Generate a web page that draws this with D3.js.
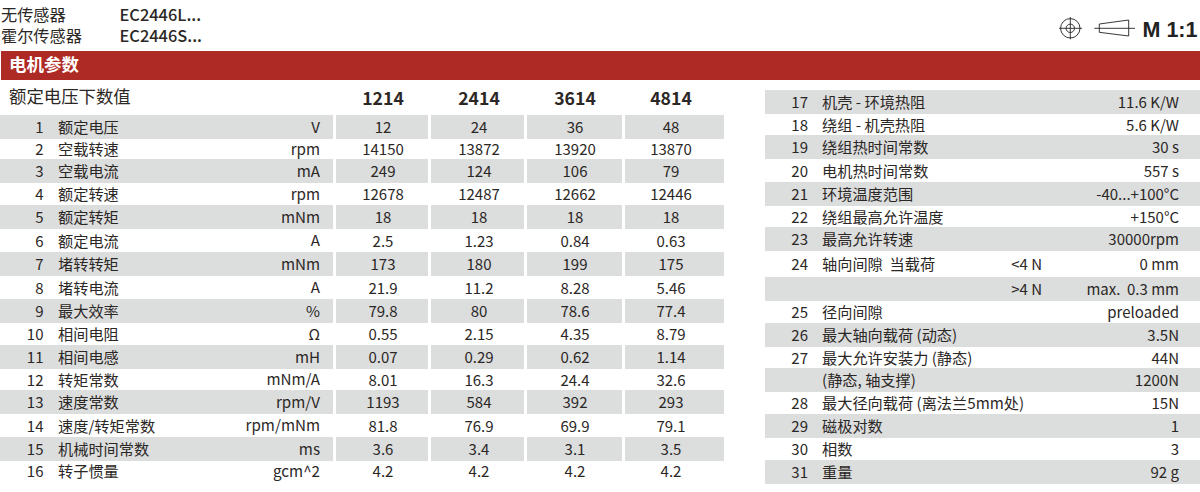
<!DOCTYPE html>
<html>
<head>
<meta charset="utf-8">
<script src="https://cdnjs.cloudflare.com/ajax/libs/d3/7.8.5/d3.min.js"></script>
<style>
  html, body { margin: 0; padding: 0; background: #fff; }
  text { font-family: "Noto Sans CJK SC", "Noto Sans", sans-serif; fill: #2b2725; }
</style>
</head>
<body>
<svg id="chart" width="1200" height="492" style="display:block"></svg>
<script>
var versionLabels = ['无传感器', '霍尔传感器'];
var versionCodes = ['EC2446L...', 'EC2446S...'];
var sectionTitle = '电机参数';
var tableTitle = '额定电压下数值';
var models = ['1214', '2414', '3614', '4814'];

var leftNames = ['额定电压', '空载转速', '空载电流', '额定转速', '额定转矩', '额定电流', '堵转转矩', '堵转电流',
  '最大效率', '相间电阻', '相间电感', '转矩常数', '速度常数', '速度/转矩常数', '机械时间常数', '转子惯量'];
var leftUnits = ['V', 'rpm', 'mA', 'rpm', 'mNm', 'A', 'mNm', 'A', '%', 'Ω', 'mH', 'mNm/A', 'rpm/V', 'rpm/mNm', 'ms', 'gcm^2'];
var values1214 = ['12', '14150', '249', '12678', '18', '2.5', '173', '21.9', '79.8', '0.55', '0.07', '8.01', '1193', '81.8', '3.6', '4.2'];
var values2414 = ['24', '13872', '124', '12487', '18', '1.23', '180', '11.2', '80', '2.15', '0.29', '16.3', '584', '76.9', '3.4', '4.2'];
var values3614 = ['36', '13920', '106', '12662', '18', '0.84', '199', '8.28', '78.6', '4.35', '0.62', '24.4', '392', '69.9', '3.1', '4.2'];
var values4814 = ['48', '13870', '79', '12446', '18', '0.63', '175', '5.46', '77.4', '8.79', '1.14', '32.6', '293', '79.1', '3.5', '4.2'];
var valueColumns = [values1214, values2414, values3614, values4814];

var rightNumbers = ['17', '18', '19', '20', '21', '22', '23', '24', '', '25', '26', '27', '', '28', '29', '30', '31'];
var rightNames = ['机壳 - 环境热阻', '绕组 - 机壳热阻', '绕组热时间常数', '电机热时间常数', '环境温度范围', '绕组最高允许温度',
  '最高允许转速', '轴向间隙  当载荷', '', '径向间隙', '最大轴向载荷 (动态)', '最大允许安装力 (静态)', '(静态, 轴支撑)',
  '最大径向载荷 (离法兰5mm处)', '磁极对数', '相数', '重量'];
var rightConditions = ['', '', '', '', '', '', '', '<4 N', '>4 N', '', '', '', '', '', '', '', ''];
var rightValues = ['11.6 K/W', '5.6 K/W', '30 s', '557 s', '-40...+100°C', '+150°C', '30000rpm', '0 mm', 'max.  0.3 mm',
  'preloaded', '3.5N', '44N', '1200N', '15N', '1', '3', '92 g'];

var svg = d3.select('#chart');
var grey = '#dcdddd';
var bandH = 24;

// the printed rows are not evenly spaced, so the row scales are piecewise
var leftY = d3.scaleLinear().domain([0, 2, 4, 6, 8, 10, 12, 14, 15]).range([115, 159, 205, 252, 299, 345, 390, 437, 459]);
var rightY = d3.scaleLinear().domain([0, 2, 4, 6, 8, 10, 12, 14, 16]).range([90, 135, 182, 227, 277, 323, 368, 414, 460]);
var colEdge = d3.scaleLinear().domain([0, 1, 2, 3, 4]).range([334.5, 429.5, 525.5, 623.5, 725.5]);
var colText = d3.scalePoint().domain(models).range([383, 671]);
var headY = d3.scalePoint().domain(versionLabels).range([15, 36]);

// header
versionLabels.forEach(function(d, i) {
  svg.append('text').attr('x', 1).attr('y', headY(d) + 6).attr('font-size', 16.2).text(d);
  svg.append('text').attr('x', 119.5).attr('y', headY(d) + 6).attr('font-size', 16.4).attr('font-weight', 500).text(versionCodes[i]);
});

svg.append('rect').attr('x', 1).attr('y', 51).attr('width', 1199).attr('height', 29).attr('fill', '#ae2a24');
svg.append('text').attr('x', 9).attr('y', 71).attr('font-size', 17.5).attr('font-weight', 700)
  .style('fill', '#fff').text(sectionTitle);

svg.append('text').attr('x', 9).attr('y', 103).attr('font-size', 17.4).text(tableTitle);

models.forEach(function(m) {
  svg.append('text').attr('x', colText(m)).attr('y', 104.8).attr('text-anchor', 'middle')
    .attr('font-size', 17.6).attr('font-weight', 700).text(m);
});

// left table
leftNames.forEach(function(d, i) {
  var y = leftY(i), cy = y + bandH / 2 + 6;
  if (i % 2 == 0) {
    svg.append('rect').attr('x', 0).attr('y', y).attr('width', 333).attr('height', bandH).attr('fill', grey);
    models.forEach(function(m, k) {
      svg.append('rect').attr('x', colEdge(k) + 1.5).attr('y', y)
        .attr('width', colEdge(k + 1) - colEdge(k) - 3).attr('height', bandH).attr('fill', grey);
    });
  }
  svg.append('text').attr('x', 43.5).attr('y', cy).attr('text-anchor', 'end').attr('font-size', 15).text(i + 1);
  svg.append('text').attr('x', 58).attr('y', cy).attr('font-size', 15.2).text(d);
  svg.append('text').attr('x', 320).attr('y', cy - 0.5).attr('text-anchor', 'end').attr('font-size', 15.2).text(leftUnits[i]);
  models.forEach(function(m, k) {
    svg.append('text').attr('x', colText(m)).attr('y', cy).attr('text-anchor', 'middle')
      .attr('font-size', 15).text(valueColumns[k][i]);
  });
});

// right table
rightNames.forEach(function(d, i) {
  var y = rightY(i), cy = y + bandH / 2 + 6;
  if (i % 2 == 0) {
    svg.append('rect').attr('x', 765).attr('y', y).attr('width', 435).attr('height', bandH).attr('fill', grey);
  }
  svg.append('text').attr('x', 808).attr('y', cy).attr('text-anchor', 'end').attr('font-size', 15).text(rightNumbers[i]);
  svg.append('text').attr('x', 822).attr('y', cy).attr('font-size', 15.2).attr('xml:space', 'preserve').text(d);
  svg.append('text').attr('x', 1042).attr('y', cy).attr('text-anchor', 'end').attr('font-size', 15).text(rightConditions[i]);
  svg.append('text').attr('x', 1179).attr('y', cy).attr('text-anchor', 'end').attr('font-size', 15).attr('xml:space', 'preserve').text(rightValues[i]);
});

// projection symbol and scale
var sym = svg.append('g').attr('fill', 'none').attr('stroke', '#222').attr('stroke-width', 0.9);
sym.append('circle').attr('cx', 1070.3).attr('cy', 28.3).attr('r', 9.7);
sym.append('circle').attr('cx', 1070.3).attr('cy', 28.3).attr('r', 4.2);
sym.append('path').attr('d', 'M1059 28.3H1082M1070.3 17V39.3');
sym.append('path').attr('d', 'M1094.3 28.3H1135M1099.3 24L1128.7 20V36L1099.3 32.3Z');
svg.append('text').attr('x', 1142.5).attr('y', 36.5).attr('font-size', 21.5).attr('font-weight', 700)
  .style('font-family', '"Liberation Sans", sans-serif').style('fill', '#222').text('M 1:1');
</script>
</body>
</html>
